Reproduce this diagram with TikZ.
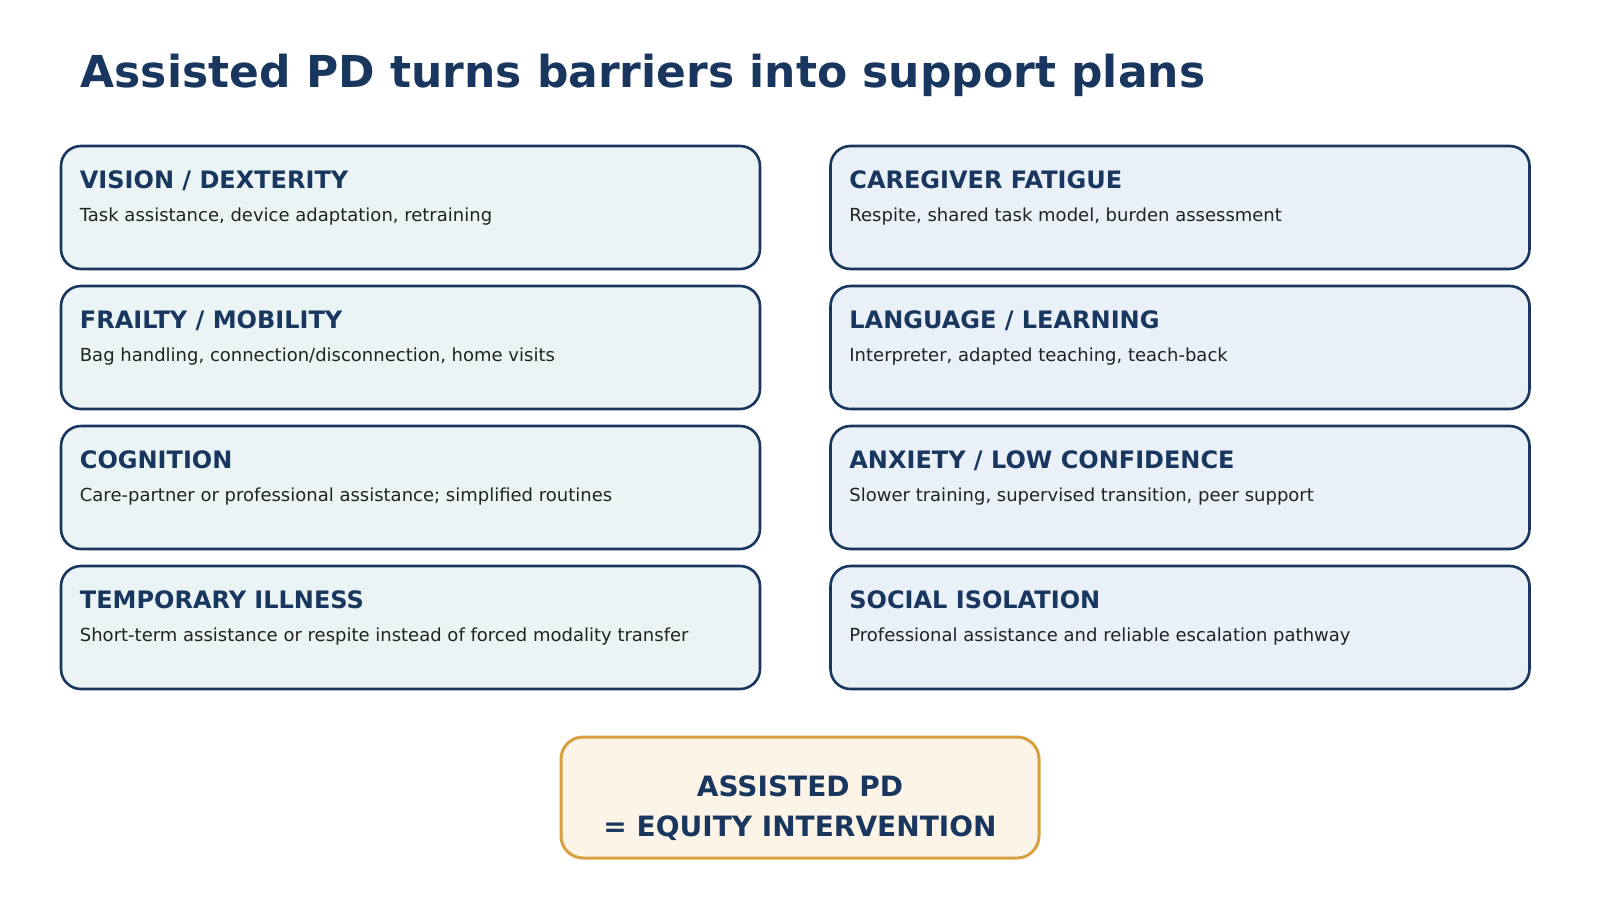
\documentclass[tikz,border=0pt]{standalone}
\usepackage{fontspec}
\setmainfont{DejaVu Sans}
\definecolor{navy}{RGB}{24,54,94}
\definecolor{inkgray}{RGB}{34,34,34}
\definecolor{tealbg}{RGB}{234,244,244}
\definecolor{bluebg}{RGB}{233,240,248}
\definecolor{gold}{RGB}{216,160,64}
\definecolor{cream}{RGB}{251,244,231}
\tikzset{
	card/.style={draw=navy,line width=2.6,rounded corners=20,minimum width=699,minimum height=123,inner sep=0},
	cardhead/.style={anchor=base west,inner sep=0,text=navy,font=\fontsize{24}{29}\selectfont\bfseries},
	cardbody/.style={anchor=base west,inner sep=0,text=inkgray,font=\fontsize{18}{22}\selectfont},
	eqline/.style={anchor=base,inner sep=0,text=navy,font=\fontsize{28}{34}\selectfont\bfseries}
}
\begin{document}
\begin{tikzpicture}[x=1pt,y=-1pt]
		\useasboundingbox (0,0) rectangle (1600,900);
		\node[anchor=base west,inner sep=0,text=navy,font=\fontsize{44}{53}\selectfont\bfseries] (title) at (80.5,87) {Assisted PD turns barriers into support plans};
		% left column
		\node[card,fill=tealbg] (vision) at (410.5,207.5) {};
		\node[card,fill=tealbg] (frailty) at (410.5,347.5) {};
		\node[card,fill=tealbg] (cognition) at (410.5,487.5) {};
		\node[card,fill=tealbg] (illness) at (410.5,627.5) {};
		% right column
		\node[card,fill=bluebg] (fatigue) at (1180,207.5) {};
		\node[card,fill=bluebg] (language) at (1180,347.5) {};
		\node[card,fill=bluebg] (anxiety) at (1180,487.5) {};
		\node[card,fill=bluebg] (isolation) at (1180,627.5) {};
		\node[cardhead] (visionH) at ([shift={(20,44)}]vision.north west) {VISION / DEXTERITY};
		\node[cardbody] (visionB) at ([shift={(20,77)}]vision.north west) {Task assistance, device adaptation, retraining};
		\node[cardhead] (frailtyH) at ([shift={(20,44)}]frailty.north west) {FRAILTY / MOBILITY};
		\node[cardbody] (frailtyB) at ([shift={(20,77)}]frailty.north west) {Bag handling, connection/disconnection, home visits};
		\node[cardhead] (cognitionH) at ([shift={(20,44)}]cognition.north west) {COGNITION};
		\node[cardbody] (cognitionB) at ([shift={(20,77)}]cognition.north west) {Care-partner or professional assistance; simplified routines};
		\node[cardhead] (illnessH) at ([shift={(20,44)}]illness.north west) {TEMPORARY ILLNESS};
		\node[cardbody] (illnessB) at ([shift={(20,77)}]illness.north west) {Short-term assistance or respite instead of forced modality transfer};
		\node[cardhead] (fatigueH) at ([shift={(20,44)}]fatigue.north west) {CAREGIVER FATIGUE};
		\node[cardbody] (fatigueB) at ([shift={(20,77)}]fatigue.north west) {Respite, shared task model, burden assessment};
		\node[cardhead] (languageH) at ([shift={(20,44)}]language.north west) {LANGUAGE / LEARNING};
		\node[cardbody] (languageB) at ([shift={(20,77)}]language.north west) {Interpreter, adapted teaching, teach-back};
		\node[cardhead] (anxietyH) at ([shift={(20,44)}]anxiety.north west) {ANXIETY / LOW CONFIDENCE};
		\node[cardbody] (anxietyB) at ([shift={(20,77)}]anxiety.north west) {Slower training, supervised transition, peer support};
		\node[cardhead] (isolationH) at ([shift={(20,44)}]isolation.north west) {SOCIAL ISOLATION};
		\node[cardbody] (isolationB) at ([shift={(20,77)}]isolation.north west) {Professional assistance and reliable escalation pathway};
		% equity box
		\node[draw=gold,fill=cream,line width=3,rounded corners=22,minimum width=478,minimum height=121,inner sep=0] (equity) at (800,797.5) {};
		\node[eqline] (equityA) at (800,796) {ASSISTED PD};
		\node[eqline] (equityB) at (800,836.5) {= EQUITY INTERVENTION};
	\end{tikzpicture}
\end{document}
